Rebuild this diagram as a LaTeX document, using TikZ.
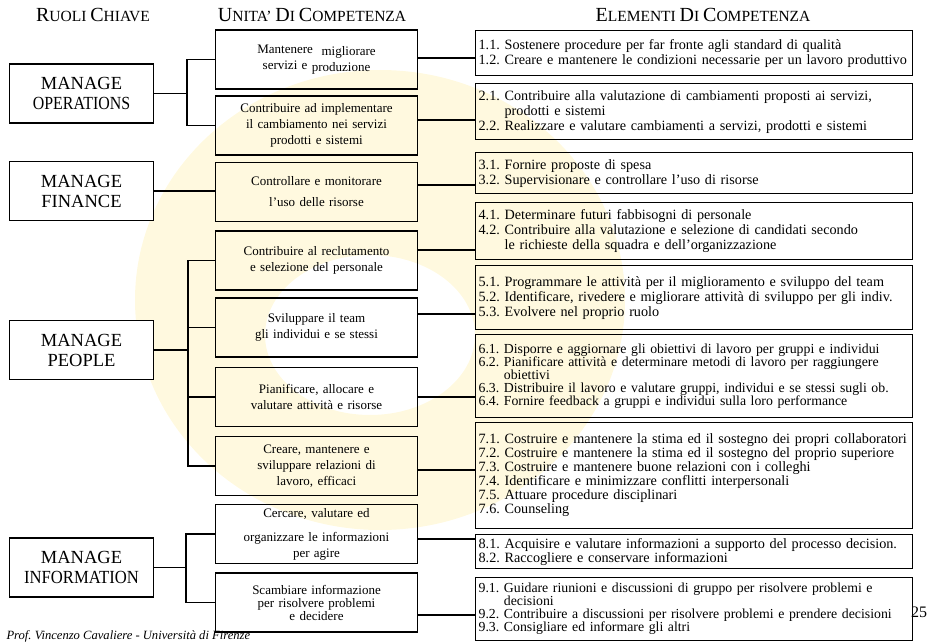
\documentclass[tikz,border=0pt]{standalone}
\usepackage{fontspec}
\setmainfont{Liberation Serif}
\usepackage{graphicx}
\usepackage{tikz}
\usetikzlibrary{shapes,arrows}
\frenchspacing
\definecolor{wmyellow}{RGB}{255,236,150}
\tikzstyle{role} = [rectangle, draw, fill=white, text centered, text width=137pt, minimum width=143pt,
minimum height=59pt, line width=1.2pt, font=\fontsize{18.5}{20}\selectfont]
\tikzstyle{unit} = [rectangle, draw, text centered, text width=195pt, minimum height=59pt,
line width=1.2pt, font=\fontsize{13}{16}\selectfont]
\tikzstyle{element} = [rectangle, draw, anchor=north west, align=left, text width=431pt, inner xsep=3pt,
line width=1.2pt, font=\fontsize{14.2}{15}\selectfont]
\tikzstyle{line} = [draw, line width=1.8pt]
\tikzstyle{branch} = [draw, line width=1.4pt]
\tikzstyle{header} = [font=\fontsize{15.5}{16}\selectfont]
\newcommand{\capl}[1]{{\fontsize{20}{20}\selectfont #1}}

\begin{document}
\begin{tikzpicture}[x=1pt, y=-1pt]
			\useasboundingbox (0,0) rectangle (928,644);
			\fill [wmyellow, opacity=0.3, even odd rule] (380,300) ellipse [x radius=245pt, y radius=230pt]
				(370,335) ellipse [x radius=105pt, y radius=80pt];
			% headers
			\node [header] (hruoli) at (93,15) {\capl{R}UOLI \capl{C}HIAVE};
			\node [header] (hunita) at (312,15) {\capl{U}NITA’ \capl{D}I \capl{C}OMPETENZA};
			\node [header] (helem) at (703,15) {\capl{E}LEMENTI \capl{D}I \capl{C}OMPETENZA};
			% ruoli chiave
			\node [role] (mo) at (81.5,93.5) {MANAGE\\\scalebox{0.86}[1]{OPERATIONS}};
			\node [role] (mf) at (81.5,191) {MANAGE\\FINANCE};
			\node [role] (mp) at (81.5,350) {MANAGE\\PEOPLE};
			\node [role] (mi) at (81.5,567.5) {MANAGE\\\scalebox{0.9}[1]{INFORMATION}};
			% unita di competenza
			\node [unit] (u1) at (316.5,59.5) {\raisebox{2pt}{Mantenere}\ \ migliorare\\\raisebox{2pt}{servizi e} produzione};
			\node [unit] (u2) at (316.5,125.5) {Contribuire ad implementare\\il cambiamento nei servizi\\prodotti e sistemi};
			\node [unit] (u3) at (316.5,192) {Controllare e monitorare\\[5pt]l'uso delle risorse};
			\node [unit] (u4) at (316.5,260.5) {Contribuire al reclutamento\\e selezione del personale};
			\node [unit] (u5) at (316.5,327.5) {Sviluppare il team\\gli individui e se stessi};
			\node [unit] (u6) at (316.5,397) {Pianificare, allocare e\\valutare attività e risorse};
			\node [unit] (u7) at (316.5,466) {Creare, mantenere e\\sviluppare relazioni di\\lavoro, efficaci};
			\node [unit] (u8) at (316.5,534) {Cercare, valutare ed\\[8pt]organizzare le informazioni\\per agire};
			\node [unit, font=\fontsize{13}{13}\selectfont] (u9) at (316.5,602.5) {Scambiare informazione\\per risolvere problemi\\e decidere};
			% elementi di competenza
			\node [element, minimum height=45pt] (e1) at (475,30) {1.1. Sostenere procedure per far fronte agli standard di qualità\\1.2. Creare e mantenere le condizioni necessarie per un lavoro produttivo};
			\node [element, minimum height=56pt] (e2) at (475,83) {2.1. Contribuire alla valutazione di cambiamenti proposti ai servizi,\\\phantom{2.1.} prodotti e sistemi\\2.2. Realizzare e valutare cambiamenti a servizi, prodotti e sistemi};
			\node [element, minimum height=41pt] (e3) at (475,152) {3.1. Fornire proposte di spesa\\3.2. Supervisionare e controllare l'uso di risorse};
			\node [element, minimum height=57pt] (e4) at (475,202) {4.1. Determinare futuri fabbisogni di personale\\4.2. Contribuire alla valutazione e selezione di candidati secondo\\\phantom{4.2.} le richieste della squadra e dell'organizzazione};
			\node [element, minimum height=64pt] (e5) at (475,265) {5.1. Programmare le attività per il miglioramento e sviluppo del team\\5.2. Identificare, rivedere e migliorare attività di sviluppo per gli indiv.\\5.3. Evolvere nel proprio ruolo};
			\node [element, minimum height=83pt, font=\fontsize{13.8}{12.6}\selectfont] (e6) at (475,334) {6.1. Disporre e aggiornare gli obiettivi di lavoro per gruppi e individui\\6.2. Pianificare attività e determinare metodi di lavoro per raggiungere\\\phantom{6.2.} obiettivi\\6.3. Distribuire il lavoro e valutare gruppi, individui e se stessi sugli ob.\\6.4. Fornire feedback a gruppi e individui sulla loro performance};
			\node [element, minimum height=106pt, font=\fontsize{14.2}{14}\selectfont] (e7) at (475,422) {7.1. Costruire e mantenere la stima ed il sostegno dei propri collaboratori\\7.2. Costruire e mantenere la stima ed il sostegno del proprio superiore\\7.3. Costruire e mantenere buone relazioni con i colleghi\\7.4. Identificare e minimizzare conflitti interpersonali\\7.5. Attuare procedure disciplinari\\7.6. Counseling};
			\node [element, minimum height=34pt, font=\fontsize{14.2}{12.6}\selectfont] (e8) at (475,534) {8.1. Acquisire e valutare informazioni a supporto del processo decision.\\8.2. Raccogliere e conservare informazioni};
			\node [element, minimum height=63pt, font=\fontsize{13.8}{12.6}\selectfont] (e9) at (475,577) {9.1. Guidare riunioni e discussioni di gruppo per risolvere problemi e\\\phantom{9.1.} decisioni\\9.2. Contribuire a discussioni per risolvere problemi e prendere decisioni\\9.3. Consigliare ed informare gli altri};
			% footer
			\node [font=\fontsize{12.6}{13}\selectfont\itshape, anchor=west] (footer) at (3,636) {Prof. Vincenzo Cavaliere - Università di Firenze};
			\node [font=\fontsize{16}{16}\selectfont] (pagenum) at (919,612) {25};
			% ruoli -> unita
			\path [branch] (mo.east) -- ++(33,0) coordinate (jo);
			\path [branch] (jo) |- (u1);
			\path [branch] (jo) |- (u2);
			\path [branch] (mf.east) -- (mf.east -| u3.west);
			\path [branch] (mp.east) -- ++(34,0) coordinate (jp);
			\path [branch] (jp) |- (u4);
			\path [branch] (jp) |- (u5);
			\path [branch] (jp) |- (u6);
			\path [branch] (jp) |- (u7);
			\path [branch] (mi.east) -- ++(32,0) coordinate (jm);
			\path [branch] (jm) |- (u8);
			\path [branch] (jm) |- (u9);
			% unita -> elementi
			\path [line] (u1.east |- 0,58) -- (e1.west |- 0,58);
			\path [line] (u2.east |- 0,120) -- (e2.west |- 0,120);
			\path [line] (u3.east |- 0,185) -- (e3.west |- 0,185);
			\path [line] (u4.east |- 0,250) -- (e4.west |- 0,250);
			\path [line] (u5.east |- 0,314) -- (e5.west |- 0,314);
			\path [line] (u6.east |- 0,397) -- (e6.west |- 0,397);
			\path [line] (u7.east |- 0,470) -- (e7.west |- 0,470);
			\path [line] (u8.east |- 0,539) -- (e8.west |- 0,539);
			\path [line] (u9.east |- 0,615) -- (e9.west |- 0,615);
		\end{tikzpicture}
\end{document}
